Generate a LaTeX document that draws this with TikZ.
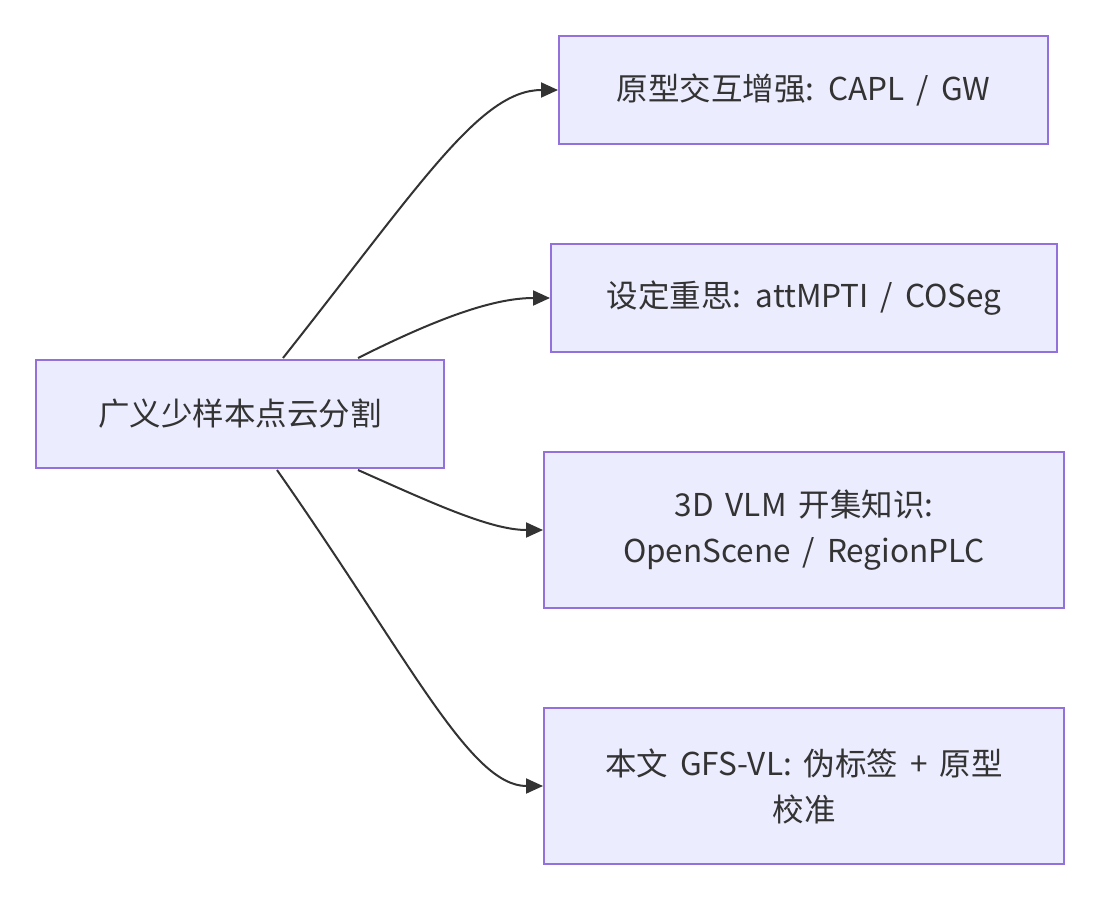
\documentclass[tikz,border=0pt]{standalone}
\usepackage{fontspec}
\setmainfont[WordSpace=1.7]{Noto Sans CJK SC}
\usetikzlibrary{arrows.meta,calc}
\definecolor{nodefill}{HTML}{ECECFF}
\definecolor{nodeline}{HTML}{9370DB}
\definecolor{ink}{HTML}{333333}
\begin{document}
\begin{tikzpicture}[x=1pt,y=-1pt,
  box/.style={draw=nodeline,fill=nodefill,line width=2pt,inner sep=0pt,
    text=ink,align=center,font=\fontsize{31.5}{46}\selectfont},
  link/.style={draw=ink,line width=2pt,-{Triangle[length=17pt,width=15pt]}}]
\useasboundingbox (0,0) rectangle (1100,900);
\node[box,minimum width=408pt,minimum height=108pt] (c) at (240,414) {广义少样本点云分割};
\node[box,minimum width=489pt,minimum height=108pt] (a) at (803.5,90) {原型交互增强: CAPL / GW};
\node[box,minimum width=506pt,minimum height=108pt] (b) at (804,298) {设定重思: attMPTI / COSeg};
\node[box,minimum width=520pt,minimum height=156pt] (d) at (804,530) {3D VLM 开集知识:\\OpenScene / RegionPLC};
\node[box,minimum width=520pt,minimum height=156pt] (e) at (804,786) {本文 GFS-VL: 伪标签 + 原型\\校准};
\draw[link] ($(c.north)+(43,-1)$) .. controls (420,185) and (480,90) .. (a.west);
\draw[link] ($(c.north)+(118,-1)$) .. controls (430,322) and (490,298) .. (b.west);
\draw[link] ($(c.south)+(118,1)$) .. controls (430,502) and (490,530) .. (d.west);
\draw[link] ($(c.south)+(37,1)$) .. controls (410,660) and (470,786) .. (e.west);
\end{tikzpicture}
\end{document}
